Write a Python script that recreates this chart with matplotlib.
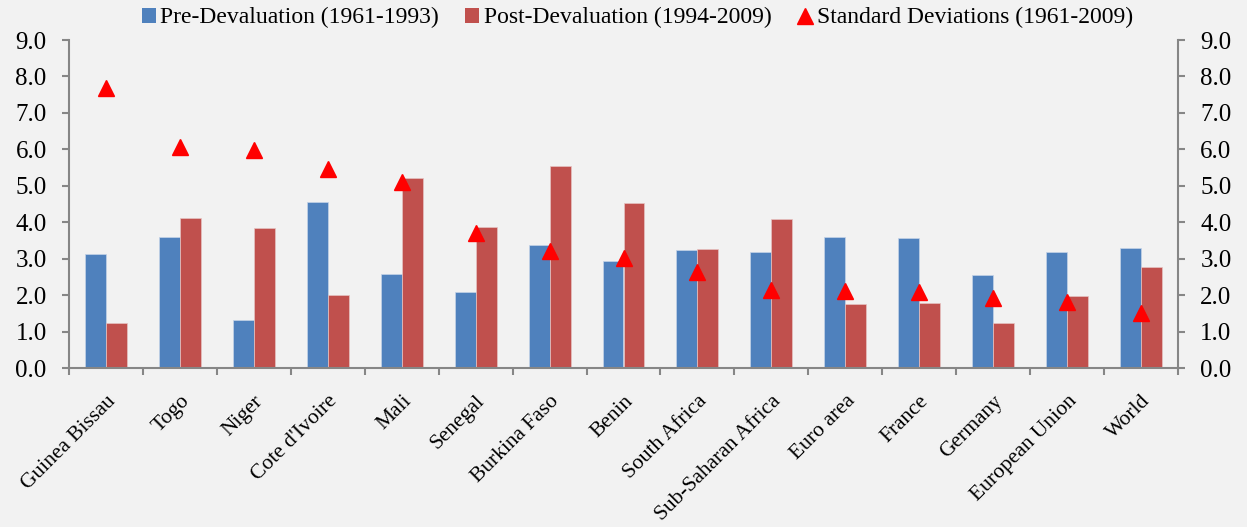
"""
Inflation before and after the 1994 CFA devaluation, with standard deviations.
"""
import numpy as np
import matplotlib.pyplot as plt
from matplotlib.lines import Line2D
from matplotlib.patches import Patch

countries = ["Guinea Bissau", "Togo", "Niger", "Cote d'Ivoire", "Mali", "Senegal",
             "Burkina Faso", "Benin", "South Africa", "Sub-Saharan Africa", "Euro area",
             "France", "Germany", "European Union", "World"]
pre_deval = [3.13, 3.60, 1.31, 4.55, 2.57, 2.09, 3.37, 2.93, 3.24, 3.17, 3.60, 3.58, 2.55, 3.18, 3.28]
post_deval = [1.24, 4.13, 3.85, 2.00, 5.22, 3.87, 5.53, 4.53, 3.26, 4.08, 1.77, 1.78, 1.23, 1.98, 2.77]
std_dev = [7.68, 6.06, 5.98, 5.45, 5.11, 3.70, 3.20, 3.03, 2.63, 2.14, 2.12, 2.08, 1.93, 1.82, 1.52]
y_ticks = [0, 1, 2, 3, 4, 5, 6, 7, 8, 9]

BLUE = '#4f81bd'
RED = '#c0504d'
BG = '#f2f2f2'
GRAY = '#868686'

plt.rcParams['font.family'] = ['Liberation Serif', 'DejaVu Serif']

fig = plt.figure(figsize=(12.47, 5.27), dpi=100, facecolor=BG)
ax = fig.add_axes([0.0553, 0.3017, 0.8894, 0.6223], facecolor=BG)

x = np.arange(len(countries))
w = 0.284
ax.bar(x - w / 2, pre_deval, w, color=BLUE, edgecolor='#c5d3e8', linewidth=0.5)
ax.bar(x + w / 2, post_deval, w, color=RED, edgecolor='#e6c3c2', linewidth=0.5)
ax.plot(x, std_dev, linestyle='none', marker='^', color='#ff0000', markersize=11)

ax.set_xlim(-0.5, len(countries) - 0.5)
ax.set_ylim(0, 9)
ax.set_yticks(y_ticks)
ax.set_yticklabels([f'{v:.1f}' for v in y_ticks])

# boundaries get the tick marks, centres get the labels
ax.set_xticks(np.arange(len(countries) + 1) - 0.5)
ax.set_xticklabels([])
ax.set_xticks(x, minor=True)
ax.set_xticklabels(countries, minor=True, rotation=45, ha='right',
                   rotation_mode='anchor', fontsize=15.5)
ax.tick_params(axis='x', which='minor', length=0, pad=17)
ax.tick_params(axis='x', which='major', length=5, width=1.5, color=GRAY)
ax.tick_params(axis='y', length=5, width=1.5, color=GRAY, labelsize=18, pad=11)

for side in ['top', 'right']:
    ax.spines[side].set_visible(False)
for side in ['left', 'bottom']:
    ax.spines[side].set_color(GRAY)
    ax.spines[side].set_linewidth(1.5)

ax2 = ax.twinx()
ax2.set_ylim(0, 9)
ax2.set_yticks(y_ticks)
ax2.set_yticklabels([f'{v:.1f}' for v in y_ticks])
ax2.tick_params(axis='y', length=5, width=1.5, color=GRAY, labelsize=18, pad=11)
for side in ['top', 'left', 'bottom']:
    ax2.spines[side].set_visible(False)
ax2.spines['right'].set_color(GRAY)
ax2.spines['right'].set_linewidth(1.5)

handles = [
    Patch(facecolor=BLUE, label='Pre-Devaluation (1961-1993)'),
    Patch(facecolor=RED, label='Post-Devaluation (1994-2009)'),
    Line2D([], [], linestyle='none', marker='^', color='#ff0000', markersize=11,
           label='Standard Deviations (1961-2009)'),
]
fig.legend(handles=handles, loc='center', bbox_to_anchor=(0.511, 0.966), ncol=3,
           frameon=False, fontsize=17, handlelength=0.6, handleheight=0.6,
           handletextpad=0.2, columnspacing=1.1, borderpad=0)

fig.savefig('out.png', dpi=100, facecolor=BG)
